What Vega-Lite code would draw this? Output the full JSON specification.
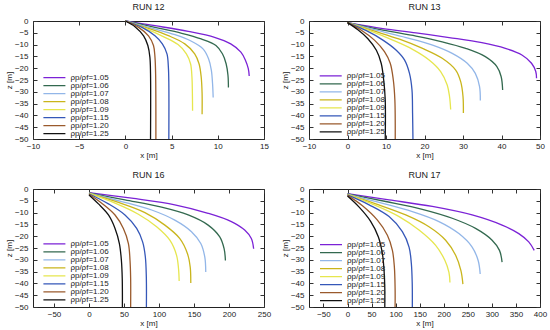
{
"$schema": "https://vega.github.io/schema/vega-lite/v6.json",
"padding": {"left": 4, "top": 2, "right": 0, "bottom": 0},
"columns": 2,
"spacing": {"row": 50, "column": 45},
"bounds": "flush",
"resolve": {"scale": {"color": "independent"}, "legend": {"color": "independent"}},
"data": {"values": [
{"run":"RUN 12","r":"1.05","x":0,"z":0},{"run":"RUN 12","r":"1.05","x":3.2,"z":-2.0},{"run":"RUN 12","r":"1.05","x":6.8,"z":-4.4},{"run":"RUN 12","r":"1.05","x":9.65,"z":-6.9},{"run":"RUN 12","r":"1.05","x":11.4,"z":-9.7},{"run":"RUN 12","r":"1.05","x":12.5,"z":-13.2},{"run":"RUN 12","r":"1.05","x":13.0,"z":-16.7},{"run":"RUN 12","r":"1.05","x":13.3,"z":-20.2},{"run":"RUN 12","r":"1.05","x":13.4,"z":-23.3},
{"run":"RUN 12","r":"1.06","x":0,"z":0},{"run":"RUN 12","r":"1.06","x":3.2,"z":-2.7},{"run":"RUN 12","r":"1.06","x":6.1,"z":-5.2},{"run":"RUN 12","r":"1.06","x":8.2,"z":-7.6},{"run":"RUN 12","r":"1.06","x":9.8,"z":-10.4},{"run":"RUN 12","r":"1.06","x":10.5,"z":-13.9},{"run":"RUN 12","r":"1.06","x":10.9,"z":-18.1},{"run":"RUN 12","r":"1.06","x":11.1,"z":-23},{"run":"RUN 12","r":"1.06","x":11.15,"z":-28.2},
{"run":"RUN 12","r":"1.07","x":0,"z":0},{"run":"RUN 12","r":"1.07","x":2.86,"z":-3.0},{"run":"RUN 12","r":"1.07","x":5.36,"z":-5.8},{"run":"RUN 12","r":"1.07","x":7.15,"z":-8.6},{"run":"RUN 12","r":"1.07","x":8.4,"z":-11.8},{"run":"RUN 12","r":"1.07","x":9.0,"z":-16},{"run":"RUN 12","r":"1.07","x":9.3,"z":-20.8},{"run":"RUN 12","r":"1.07","x":9.43,"z":-26.4},{"run":"RUN 12","r":"1.07","x":9.5,"z":-32.4},
{"run":"RUN 12","r":"1.08","x":0,"z":0},{"run":"RUN 12","r":"1.08","x":2.5,"z":-3.1},{"run":"RUN 12","r":"1.08","x":4.65,"z":-6.2},{"run":"RUN 12","r":"1.08","x":6.43,"z":-9.7},{"run":"RUN 12","r":"1.08","x":7.5,"z":-13.9},{"run":"RUN 12","r":"1.08","x":7.97,"z":-18.1},{"run":"RUN 12","r":"1.08","x":8.2,"z":-23.6},{"run":"RUN 12","r":"1.08","x":8.3,"z":-30.6},{"run":"RUN 12","r":"1.08","x":8.3,"z":-39.5},
{"run":"RUN 12","r":"1.09","x":0,"z":0},{"run":"RUN 12","r":"1.09","x":2.14,"z":-3.1},{"run":"RUN 12","r":"1.09","x":4.1,"z":-6.6},{"run":"RUN 12","r":"1.09","x":5.7,"z":-10},{"run":"RUN 12","r":"1.09","x":6.6,"z":-13.9},{"run":"RUN 12","r":"1.09","x":7.05,"z":-18.1},{"run":"RUN 12","r":"1.09","x":7.2,"z":-23.6},{"run":"RUN 12","r":"1.09","x":7.25,"z":-30.6},{"run":"RUN 12","r":"1.09","x":7.27,"z":-38},
{"run":"RUN 12","r":"1.15","x":0,"z":0},{"run":"RUN 12","r":"1.15","x":1.8,"z":-2.7},{"run":"RUN 12","r":"1.15","x":3.2,"z":-6.3},{"run":"RUN 12","r":"1.15","x":4.0,"z":-9.7},{"run":"RUN 12","r":"1.15","x":4.5,"z":-13.9},{"run":"RUN 12","r":"1.15","x":4.65,"z":-19.5},{"run":"RUN 12","r":"1.15","x":4.7,"z":-26.4},{"run":"RUN 12","r":"1.15","x":4.7,"z":-50},
{"run":"RUN 12","r":"1.20","x":0,"z":0},{"run":"RUN 12","r":"1.20","x":1.43,"z":-2.7},{"run":"RUN 12","r":"1.20","x":2.5,"z":-6.3},{"run":"RUN 12","r":"1.20","x":3.04,"z":-10.4},{"run":"RUN 12","r":"1.20","x":3.2,"z":-15.3},{"run":"RUN 12","r":"1.20","x":3.27,"z":-22.3},{"run":"RUN 12","r":"1.20","x":3.3,"z":-50},
{"run":"RUN 12","r":"1.25","x":0,"z":0},{"run":"RUN 12","r":"1.25","x":1.07,"z":-2.5},{"run":"RUN 12","r":"1.25","x":1.97,"z":-6.3},{"run":"RUN 12","r":"1.25","x":2.43,"z":-10.4},{"run":"RUN 12","r":"1.25","x":2.65,"z":-15.3},{"run":"RUN 12","r":"1.25","x":2.72,"z":-22.3},{"run":"RUN 12","r":"1.25","x":2.72,"z":-50},

{"run":"RUN 13","r":"1.05","x":0,"z":-0.7},{"run":"RUN 13","r":"1.05","x":9.2,"z":-3.2},{"run":"RUN 13","r":"1.05","x":17.8,"z":-5.0},{"run":"RUN 13","r":"1.05","x":26.4,"z":-7.0},{"run":"RUN 13","r":"1.05","x":34.9,"z":-9.2},{"run":"RUN 13","r":"1.05","x":41,"z":-11.6},{"run":"RUN 13","r":"1.05","x":45.3,"z":-14.4},{"run":"RUN 13","r":"1.05","x":47.8,"z":-17.9},{"run":"RUN 13","r":"1.05","x":48.9,"z":-21.4},{"run":"RUN 13","r":"1.05","x":49.1,"z":-24.3},
{"run":"RUN 13","r":"1.06","x":0,"z":-0.7},{"run":"RUN 13","r":"1.06","x":9.2,"z":-3.9},{"run":"RUN 13","r":"1.06","x":17.8,"z":-6.4},{"run":"RUN 13","r":"1.06","x":24.6,"z":-8.8},{"run":"RUN 13","r":"1.06","x":30.7,"z":-11.6},{"run":"RUN 13","r":"1.06","x":35.8,"z":-15.1},{"run":"RUN 13","r":"1.06","x":38.8,"z":-19.3},{"run":"RUN 13","r":"1.06","x":39.9,"z":-23.5},{"run":"RUN 13","r":"1.06","x":40.3,"z":-29.2},
{"run":"RUN 13","r":"1.07","x":0,"z":-0.7},{"run":"RUN 13","r":"1.07","x":7.5,"z":-3.9},{"run":"RUN 13","r":"1.07","x":15.2,"z":-7},{"run":"RUN 13","r":"1.07","x":22.1,"z":-10.2},{"run":"RUN 13","r":"1.07","x":27.2,"z":-13.7},{"run":"RUN 13","r":"1.07","x":31.1,"z":-17.9},{"run":"RUN 13","r":"1.07","x":33.2,"z":-22.2},{"run":"RUN 13","r":"1.07","x":34.3,"z":-27.8},{"run":"RUN 13","r":"1.07","x":34.5,"z":-33.7},
{"run":"RUN 13","r":"1.08","x":0,"z":-0.7},{"run":"RUN 13","r":"1.08","x":6.6,"z":-4.1},{"run":"RUN 13","r":"1.08","x":13.5,"z":-7.7},{"run":"RUN 13","r":"1.08","x":19.5,"z":-11.6},{"run":"RUN 13","r":"1.08","x":24.6,"z":-15.8},{"run":"RUN 13","r":"1.08","x":28.1,"z":-20.8},{"run":"RUN 13","r":"1.08","x":29.4,"z":-25.7},{"run":"RUN 13","r":"1.08","x":30.0,"z":-32},{"run":"RUN 13","r":"1.08","x":30.1,"z":-39},
{"run":"RUN 13","r":"1.09","x":0,"z":-0.7},{"run":"RUN 13","r":"1.09","x":5.75,"z":-4.1},{"run":"RUN 13","r":"1.09","x":11.75,"z":-8.1},{"run":"RUN 13","r":"1.09","x":16.9,"z":-12},{"run":"RUN 13","r":"1.09","x":21.2,"z":-16.5},{"run":"RUN 13","r":"1.09","x":24.2,"z":-21.4},{"run":"RUN 13","r":"1.09","x":25.9,"z":-27.1},{"run":"RUN 13","r":"1.09","x":26.5,"z":-32},{"run":"RUN 13","r":"1.09","x":26.8,"z":-37.5},
{"run":"RUN 13","r":"1.15","x":0,"z":-0.7},{"run":"RUN 13","r":"1.15","x":4.9,"z":-4.1},{"run":"RUN 13","r":"1.15","x":9.2,"z":-8.1},{"run":"RUN 13","r":"1.15","x":12.6,"z":-12.3},{"run":"RUN 13","r":"1.15","x":14.8,"z":-16.5},{"run":"RUN 13","r":"1.15","x":16.1,"z":-22.2},{"run":"RUN 13","r":"1.15","x":16.75,"z":-29.2},{"run":"RUN 13","r":"1.15","x":16.9,"z":-39},{"run":"RUN 13","r":"1.15","x":17.0,"z":-50},
{"run":"RUN 13","r":"1.20","x":0,"z":-0.7},{"run":"RUN 13","r":"1.20","x":3.6,"z":-3.9},{"run":"RUN 13","r":"1.20","x":7.0,"z":-8.1},{"run":"RUN 13","r":"1.20","x":9.6,"z":-13},{"run":"RUN 13","r":"1.20","x":11.1,"z":-17.9},{"run":"RUN 13","r":"1.20","x":11.9,"z":-25},{"run":"RUN 13","r":"1.20","x":12.3,"z":-33.4},{"run":"RUN 13","r":"1.20","x":12.4,"z":-50},
{"run":"RUN 13","r":"1.25","x":0,"z":-0.7},{"run":"RUN 13","r":"1.25","x":2.7,"z":-3.7},{"run":"RUN 13","r":"1.25","x":5.3,"z":-7.5},{"run":"RUN 13","r":"1.25","x":7.5,"z":-12.4},{"run":"RUN 13","r":"1.25","x":8.75,"z":-17.9},{"run":"RUN 13","r":"1.25","x":9.4,"z":-25},{"run":"RUN 13","r":"1.25","x":9.8,"z":-33.4},{"run":"RUN 13","r":"1.25","x":9.8,"z":-50},

{"run":"RUN 16","r":"1.05","x":0,"z":-1.5},{"run":"RUN 16","r":"1.05","x":61,"z":-3.9},{"run":"RUN 16","r":"1.05","x":122.6,"z":-6.7},{"run":"RUN 16","r":"1.05","x":170.2,"z":-10.3},{"run":"RUN 16","r":"1.05","x":203.4,"z":-13.8},{"run":"RUN 16","r":"1.05","x":222.4,"z":-17.4},{"run":"RUN 16","r":"1.05","x":231.9,"z":-21},{"run":"RUN 16","r":"1.05","x":235.2,"z":-25.3},
{"run":"RUN 16","r":"1.06","x":0,"z":-1.7},{"run":"RUN 16","r":"1.06","x":51.4,"z":-4.6},{"run":"RUN 16","r":"1.06","x":103.7,"z":-7.7},{"run":"RUN 16","r":"1.06","x":141.7,"z":-11},{"run":"RUN 16","r":"1.06","x":170.2,"z":-15.3},{"run":"RUN 16","r":"1.06","x":186.8,"z":-20.3},{"run":"RUN 16","r":"1.06","x":193,"z":-25.3},{"run":"RUN 16","r":"1.06","x":194.9,"z":-30.3},
{"run":"RUN 16","r":"1.07","x":0,"z":-1.8},{"run":"RUN 16","r":"1.07","x":46.7,"z":-5.3},{"run":"RUN 16","r":"1.07","x":89.5,"z":-8.9},{"run":"RUN 16","r":"1.07","x":122.6,"z":-13.2},{"run":"RUN 16","r":"1.07","x":146.4,"z":-18.1},{"run":"RUN 16","r":"1.07","x":159.7,"z":-23.1},{"run":"RUN 16","r":"1.07","x":165.4,"z":-28.8},{"run":"RUN 16","r":"1.07","x":166.8,"z":-35.2},
{"run":"RUN 16","r":"1.08","x":0,"z":-1.9},{"run":"RUN 16","r":"1.08","x":42,"z":-5.7},{"run":"RUN 16","r":"1.08","x":79.9,"z":-10},{"run":"RUN 16","r":"1.08","x":108.4,"z":-15.3},{"run":"RUN 16","r":"1.08","x":129.8,"z":-21},{"run":"RUN 16","r":"1.08","x":140.7,"z":-27.4},{"run":"RUN 16","r":"1.08","x":144.6,"z":-33.1},{"run":"RUN 16","r":"1.08","x":145.4,"z":-39.8},
{"run":"RUN 16","r":"1.09","x":0,"z":-1.9},{"run":"RUN 16","r":"1.09","x":37.2,"z":-6},{"run":"RUN 16","r":"1.09","x":70.5,"z":-10.7},{"run":"RUN 16","r":"1.09","x":96.6,"z":-16},{"run":"RUN 16","r":"1.09","x":115.5,"z":-21.7},{"run":"RUN 16","r":"1.09","x":125.1,"z":-28.1},{"run":"RUN 16","r":"1.09","x":127.9,"z":-33.8},{"run":"RUN 16","r":"1.09","x":128.8,"z":-39},
{"run":"RUN 16","r":"1.15","x":0,"z":-2.0},{"run":"RUN 16","r":"1.15","x":27.8,"z":-6.3},{"run":"RUN 16","r":"1.15","x":51.4,"z":-11},{"run":"RUN 16","r":"1.15","x":68.1,"z":-16.7},{"run":"RUN 16","r":"1.15","x":76.6,"z":-22.4},{"run":"RUN 16","r":"1.15","x":80.5,"z":-28.8},{"run":"RUN 16","r":"1.15","x":81.9,"z":-37.4},{"run":"RUN 16","r":"1.15","x":82,"z":-50},
{"run":"RUN 16","r":"1.20","x":0,"z":-2.2},{"run":"RUN 16","r":"1.20","x":18.2,"z":-6},{"run":"RUN 16","r":"1.20","x":37.2,"z":-11},{"run":"RUN 16","r":"1.20","x":49.1,"z":-16.7},{"run":"RUN 16","r":"1.20","x":56.3,"z":-23.1},{"run":"RUN 16","r":"1.20","x":58.6,"z":-30.3},{"run":"RUN 16","r":"1.20","x":59.5,"z":-38},{"run":"RUN 16","r":"1.20","x":59.5,"z":-50},
{"run":"RUN 16","r":"1.25","x":0,"z":-2.5},{"run":"RUN 16","r":"1.25","x":13.5,"z":-6.3},{"run":"RUN 16","r":"1.25","x":27.8,"z":-11},{"run":"RUN 16","r":"1.25","x":37.2,"z":-16.7},{"run":"RUN 16","r":"1.25","x":43.4,"z":-23.1},{"run":"RUN 16","r":"1.25","x":46.3,"z":-30.3},{"run":"RUN 16","r":"1.25","x":47.5,"z":-38},{"run":"RUN 16","r":"1.25","x":47.7,"z":-50},

{"run":"RUN 17","r":"1.05","x":0,"z":-2},{"run":"RUN 17","r":"1.05","x":86.4,"z":-4.6},{"run":"RUN 17","r":"1.05","x":176.2,"z":-7.4},{"run":"RUN 17","r":"1.05","x":259,"z":-11},{"run":"RUN 17","r":"1.05","x":321.2,"z":-15.3},{"run":"RUN 17","r":"1.05","x":355.9,"z":-18.9},{"run":"RUN 17","r":"1.05","x":376.6,"z":-22.4},{"run":"RUN 17","r":"1.05","x":388,"z":-26},
{"run":"RUN 17","r":"1.06","x":0,"z":-2.1},{"run":"RUN 17","r":"1.06","x":79.6,"z":-5.3},{"run":"RUN 17","r":"1.06","x":155.4,"z":-8.6},{"run":"RUN 17","r":"1.06","x":217.6,"z":-12.4},{"run":"RUN 17","r":"1.06","x":266.1,"z":-16.7},{"run":"RUN 17","r":"1.06","x":300.5,"z":-21.7},{"run":"RUN 17","r":"1.06","x":315.8,"z":-26},{"run":"RUN 17","r":"1.06","x":321.2,"z":-31},
{"run":"RUN 17","r":"1.07","x":0,"z":-2.2},{"run":"RUN 17","r":"1.07","x":65.7,"z":-5.7},{"run":"RUN 17","r":"1.07","x":134.7,"z":-9.6},{"run":"RUN 17","r":"1.07","x":190,"z":-13.8},{"run":"RUN 17","r":"1.07","x":231.5,"z":-18.9},{"run":"RUN 17","r":"1.07","x":259,"z":-24.6},{"run":"RUN 17","r":"1.07","x":271.5,"z":-30.3},{"run":"RUN 17","r":"1.07","x":275.7,"z":-36},
{"run":"RUN 17","r":"1.08","x":0,"z":-2.3},{"run":"RUN 17","r":"1.08","x":58.8,"z":-6.3},{"run":"RUN 17","r":"1.08","x":121,"z":-11},{"run":"RUN 17","r":"1.08","x":169.3,"z":-16},{"run":"RUN 17","r":"1.08","x":203.9,"z":-21.7},{"run":"RUN 17","r":"1.08","x":224.7,"z":-28.1},{"run":"RUN 17","r":"1.08","x":235.7,"z":-34.6},{"run":"RUN 17","r":"1.08","x":239.8,"z":-40.3},
{"run":"RUN 17","r":"1.09","x":0,"z":-2.3},{"run":"RUN 17","r":"1.09","x":51.8,"z":-6.4},{"run":"RUN 17","r":"1.09","x":107.2,"z":-11.7},{"run":"RUN 17","r":"1.09","x":148.6,"z":-17.4},{"run":"RUN 17","r":"1.09","x":183.2,"z":-23.9},{"run":"RUN 17","r":"1.09","x":202.5,"z":-30.3},{"run":"RUN 17","r":"1.09","x":210.8,"z":-35.3},{"run":"RUN 17","r":"1.09","x":212.9,"z":-39.6},
{"run":"RUN 17","r":"1.15","x":0,"z":-2.5},{"run":"RUN 17","r":"1.15","x":45,"z":-6.7},{"run":"RUN 17","r":"1.15","x":86.4,"z":-11.7},{"run":"RUN 17","r":"1.15","x":114,"z":-18.1},{"run":"RUN 17","r":"1.15","x":127.9,"z":-24.6},{"run":"RUN 17","r":"1.15","x":132.7,"z":-31.7},{"run":"RUN 17","r":"1.15","x":134.5,"z":-40},{"run":"RUN 17","r":"1.15","x":134.7,"z":-50},
{"run":"RUN 17","r":"1.20","x":0,"z":-2.7},{"run":"RUN 17","r":"1.20","x":31.1,"z":-7.1},{"run":"RUN 17","r":"1.20","x":62.2,"z":-13.2},{"run":"RUN 17","r":"1.20","x":82.9,"z":-19.6},{"run":"RUN 17","r":"1.20","x":93.3,"z":-26},{"run":"RUN 17","r":"1.20","x":97.4,"z":-33.1},{"run":"RUN 17","r":"1.20","x":98.9,"z":-42},{"run":"RUN 17","r":"1.20","x":98.9,"z":-50},
{"run":"RUN 17","r":"1.25","x":0,"z":-3},{"run":"RUN 17","r":"1.25","x":24.2,"z":-7.7},{"run":"RUN 17","r":"1.25","x":48.4,"z":-13.8},{"run":"RUN 17","r":"1.25","x":64.2,"z":-20.3},{"run":"RUN 17","r":"1.25","x":72.5,"z":-27.4},{"run":"RUN 17","r":"1.25","x":76,"z":-34.6},{"run":"RUN 17","r":"1.25","x":77.5,"z":-42},{"run":"RUN 17","r":"1.25","x":77.5,"z":-50}
]},
"concat": [
{"title": "RUN 12", "width": 231, "height": 118,
 "transform": [{"filter": "datum.run == 'RUN 12'"}],
 "layer": [
  {"mark": {"type": "line", "strokeWidth": 1.3, "interpolate": "catmull-rom"},
   "encoding": {
    "x": {"field": "x", "type": "quantitative", "scale": {"domain": [-10, 15], "nice": false, "zero": false}, "axis": {"values": [-10,-5,0,5,10,15], "title": "x [m]"}},
    "y": {"field": "z", "type": "quantitative", "scale": {"domain": [-50, 0], "nice": false}, "axis": {"values": [0,-5,-10,-15,-20,-25,-30,-35,-40,-45,-50], "title": "z [m]"}},
    "color": {"field": "r", "type": "nominal", "scale": {"domain": ["1.05","1.06","1.07","1.08","1.09","1.15","1.20","1.25"], "range": ["#7b22d6","#33694f","#92b6e8","#c9b51c","#e6e64e","#3557b8","#9a5a2c","#111111"]},
     "legend": {"orient": "none", "legendX": 9.4, "legendY": 52.8, "labelExpr": "'ρp/ρf=' + datum.label"}},
    "order": {"field": "z", "sort": "descending"}
   }},
  {"mark": {"type": "line", "opacity": 0},
   "encoding": {
    "x": {"field": "x", "type": "quantitative", "axis": {"orient": "top", "values": [-10,-5,0,5,10,15], "labels": false, "title": null}},
    "y": {"field": "z", "type": "quantitative", "axis": {"orient": "right", "values": [0,-5,-10,-15,-20,-25,-30,-35,-40,-45,-50], "labels": false, "title": null}}
   }}
 ],
 "resolve": {"axis": {"x": "independent", "y": "independent"}}
},
{"title": "RUN 13", "width": 231, "height": 118,
 "transform": [{"filter": "datum.run == 'RUN 13'"}],
 "layer": [
  {"mark": {"type": "line", "strokeWidth": 1.3, "interpolate": "catmull-rom"},
   "encoding": {
    "x": {"field": "x", "type": "quantitative", "scale": {"domain": [-10, 50], "nice": false, "zero": false}, "axis": {"values": [-10,0,10,20,30,40,50], "title": "x [m]"}},
    "y": {"field": "z", "type": "quantitative", "scale": {"domain": [-50, 0], "nice": false}, "axis": {"values": [0,-5,-10,-15,-20,-25,-30,-35,-40,-45,-50], "title": "z [m]"}},
    "color": {"field": "r", "type": "nominal", "scale": {"domain": ["1.05","1.06","1.07","1.08","1.09","1.15","1.20","1.25"], "range": ["#7b22d6","#33694f","#92b6e8","#c9b51c","#e6e64e","#3557b8","#9a5a2c","#111111"]},
     "legend": {"orient": "none", "legendX": 9.7, "legendY": 51.1, "labelExpr": "'ρp/ρf=' + datum.label"}},
    "order": {"field": "z", "sort": "descending"}
   }},
  {"mark": {"type": "line", "opacity": 0},
   "encoding": {
    "x": {"field": "x", "type": "quantitative", "axis": {"orient": "top", "values": [-10,0,10,20,30,40,50], "labels": false, "title": null}},
    "y": {"field": "z", "type": "quantitative", "axis": {"orient": "right", "values": [0,-5,-10,-15,-20,-25,-30,-35,-40,-45,-50], "labels": false, "title": null}}
   }}
 ],
 "resolve": {"axis": {"x": "independent", "y": "independent"}}
},
{"title": "RUN 16", "width": 231, "height": 118,
 "transform": [{"filter": "datum.run == 'RUN 16'"}],
 "layer": [
  {"mark": {"type": "line", "strokeWidth": 1.3, "interpolate": "catmull-rom"},
   "encoding": {
    "x": {"field": "x", "type": "quantitative", "scale": {"domain": [-80, 250], "nice": false, "zero": false}, "axis": {"values": [-50,0,50,100,150,200,250], "title": "x [m]"}},
    "y": {"field": "z", "type": "quantitative", "scale": {"domain": [-50, 0], "nice": false}, "axis": {"values": [0,-5,-10,-15,-20,-25,-30,-35,-40,-45,-50], "title": "z [m]"}},
    "color": {"field": "r", "type": "nominal", "scale": {"domain": ["1.05","1.06","1.07","1.08","1.09","1.15","1.20","1.25"], "range": ["#7b22d6","#33694f","#92b6e8","#c9b51c","#e6e64e","#3557b8","#9a5a2c","#111111"]},
     "legend": {"orient": "none", "legendX": 9.4, "legendY": 51.1, "labelExpr": "'ρp/ρf=' + datum.label"}},
    "order": {"field": "z", "sort": "descending"}
   }},
  {"mark": {"type": "line", "opacity": 0},
   "encoding": {
    "x": {"field": "x", "type": "quantitative", "axis": {"orient": "top", "values": [-50,0,50,100,150,200,250], "labels": false, "title": null}},
    "y": {"field": "z", "type": "quantitative", "axis": {"orient": "right", "values": [0,-5,-10,-15,-20,-25,-30,-35,-40,-45,-50], "labels": false, "title": null}}
   }}
 ],
 "resolve": {"axis": {"x": "independent", "y": "independent"}}
},
{"title": "RUN 17", "width": 231, "height": 118,
 "transform": [{"filter": "datum.run == 'RUN 17'"}],
 "layer": [
  {"mark": {"type": "line", "strokeWidth": 1.3, "interpolate": "catmull-rom"},
   "encoding": {
    "x": {"field": "x", "type": "quantitative", "scale": {"domain": [-80, 400], "nice": false, "zero": false}, "axis": {"values": [-50,0,50,100,150,200,250,300,350,400], "title": "x [m]"}},
    "y": {"field": "z", "type": "quantitative", "scale": {"domain": [-50, 0], "nice": false}, "axis": {"values": [0,-5,-10,-15,-20,-25,-30,-35,-40,-45,-50], "title": "z [m]"}},
    "color": {"field": "r", "type": "nominal", "scale": {"domain": ["1.05","1.06","1.07","1.08","1.09","1.15","1.20","1.25"], "range": ["#7b22d6","#33694f","#92b6e8","#c9b51c","#e6e64e","#3557b8","#9a5a2c","#111111"]},
     "legend": {"orient": "none", "legendX": 10, "legendY": 51.8, "labelExpr": "'ρp/ρf=' + datum.label"}},
    "order": {"field": "z", "sort": "descending"}
   }},
  {"mark": {"type": "line", "opacity": 0},
   "encoding": {
    "x": {"field": "x", "type": "quantitative", "axis": {"orient": "top", "values": [-50,0,50,100,150,200,250,300,350,400], "labels": false, "title": null}},
    "y": {"field": "z", "type": "quantitative", "axis": {"orient": "right", "values": [0,-5,-10,-15,-20,-25,-30,-35,-40,-45,-50], "labels": false, "title": null}}
   }}
 ],
 "resolve": {"axis": {"x": "independent", "y": "independent"}}
}
],
"config": {
 "font": "Liberation Sans",
 "view": {"stroke": "#222", "strokeWidth": 1},
 "title": {"fontSize": 9, "fontWeight": "normal", "font": "Liberation Sans", "color": "#222", "offset": 5},
 "legend": {"title": null, "symbolType": "stroke", "symbolSize": 484, "symbolStrokeWidth": 1.3, "labelFontSize": 8, "labelFont": "Liberation Sans", "labelColor": "#222", "clipHeight": 7.7, "rowPadding": -1.6},
 "axis": {"domain": false, "grid": false, "tickSize": -4, "tickColor": "#333", "labelFont": "Liberation Sans", "labelFontSize": 8, "labelColor": "#222", "labelPadding": 7, "labelFlush": false, "labelOverlap": false, "titleFont": "Liberation Sans", "titleFontSize": 8, "titleFontWeight": "normal", "titleColor": "#222", "titlePadding": 1},
 "axisY": {"labelPadding": 9}
}
}
